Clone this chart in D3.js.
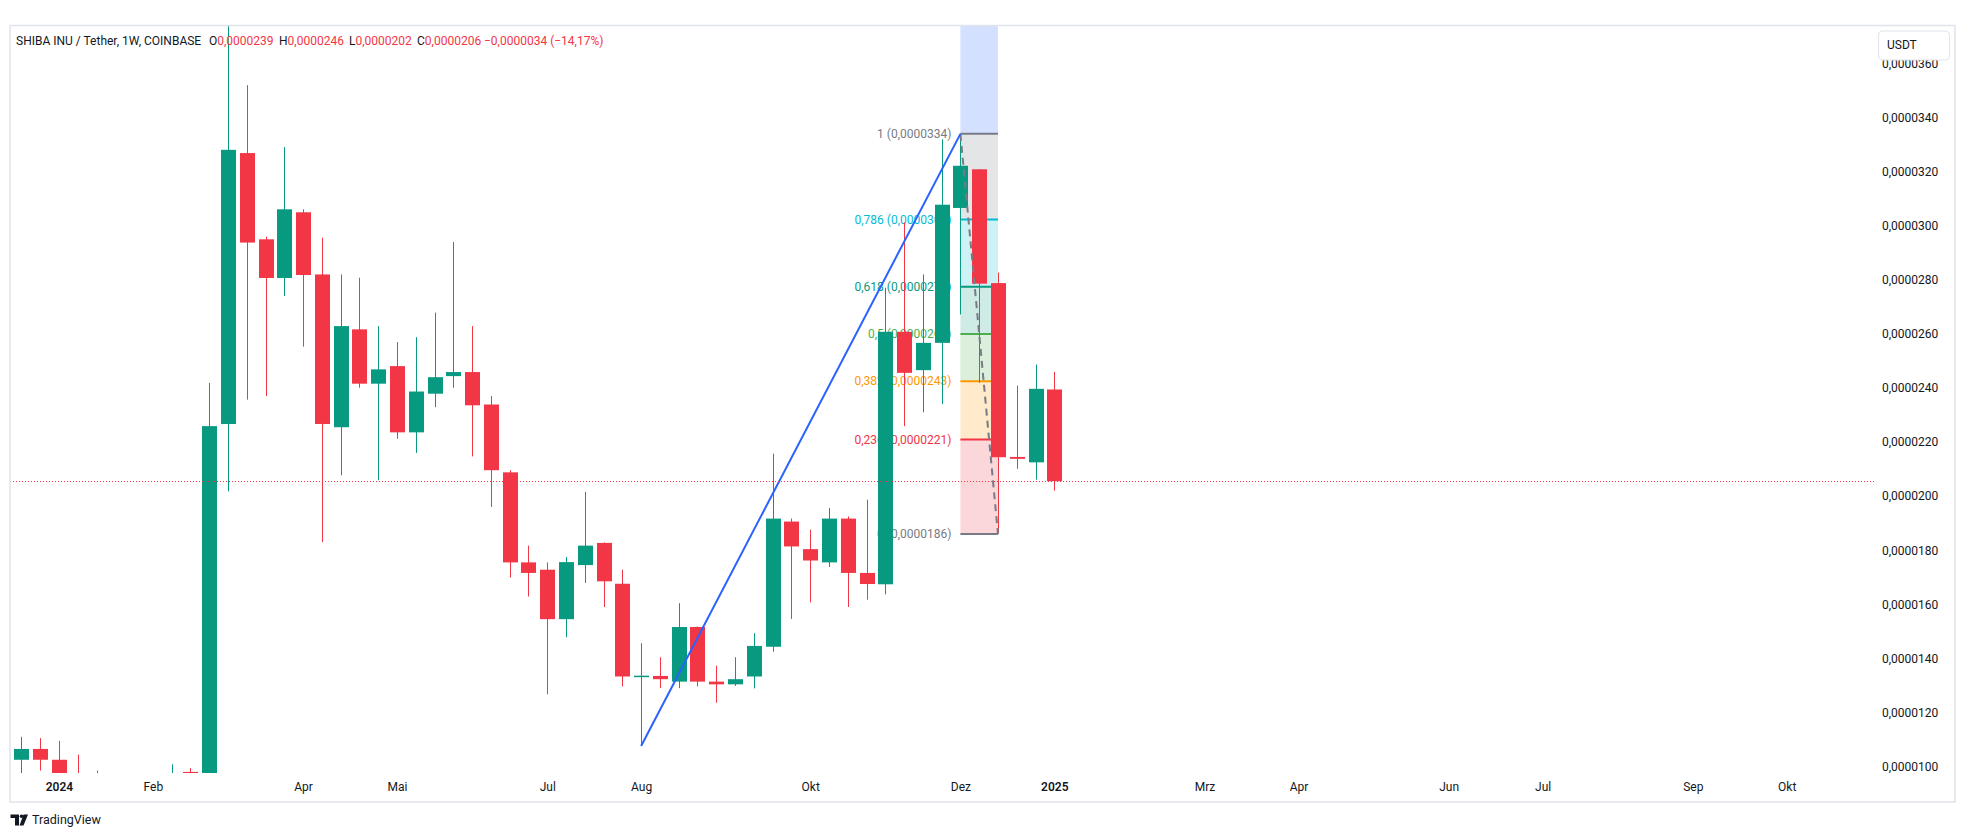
<!DOCTYPE html>
<html><head><meta charset="utf-8">
<script src="https://cdn.jsdelivr.net/npm/d3@7"></script>
<style>
html,body{margin:0;padding:0;background:#fff;}
svg{display:block;font-family:Roboto,"Noto Sans",sans-serif;}
</style></head><body>
<svg id="chart" width="1964" height="837"></svg>
<script>
// ---------- DATA ----------
const weeks = ["2023-12-18","2023-12-25","2024-01-01","2024-01-08","2024-01-15","2024-01-22","2024-01-29","2024-02-05","2024-02-12","2024-02-19","2024-02-26","2024-03-04","2024-03-11","2024-03-18","2024-03-25","2024-04-01","2024-04-08","2024-04-15","2024-04-22","2024-04-29","2024-05-06","2024-05-13","2024-05-20","2024-05-27","2024-06-03","2024-06-10","2024-06-17","2024-06-24","2024-07-01","2024-07-08","2024-07-15","2024-07-22","2024-07-29","2024-08-05","2024-08-12","2024-08-19","2024-08-26","2024-09-02","2024-09-09","2024-09-16","2024-09-23","2024-09-30","2024-10-07","2024-10-14","2024-10-21","2024-10-28","2024-11-04","2024-11-11","2024-11-18","2024-11-25","2024-12-02","2024-12-09","2024-12-16","2024-12-23","2024-12-30","2025-01-06"];
const opens  = [102.5e-7,106.5e-7,102.5e-7,96e-7,93e-7,90e-7,88e-7,92e-7,95e-7,98e-7,96.5e-7,226.7e-7,326.9e-7,295.0e-7,280.7e-7,305.0e-7,282.0e-7,225.5e-7,261.7e-7,241.6e-7,248.1e-7,223.6e-7,237.9e-7,244.4e-7,245.9e-7,233.9e-7,208.8e-7,175.5e-7,172.8e-7,154.5e-7,174.5e-7,182.7e-7,167.6e-7,133.3e-7,133.5e-7,131.4e-7,151.6e-7,131.4e-7,130.4e-7,133.3e-7,144.3e-7,190.6e-7,180.4e-7,175.5e-7,191.7e-7,171.6e-7,167.4e-7,260.8e-7,246.6e-7,256.7e-7,306.6e-7,320.9e-7,278.8e-7,214.5e-7,212.5e-7,239.45e-7];
const highs  = [111e-7,110.5e-7,109.5e-7,104.4e-7,98.5e-7,94e-7,95e-7,96e-7,100.8e-7,99.4e-7,241.9e-7,457e-7,352.0e-7,296.0e-7,329.1e-7,306.1e-7,295.6e-7,282.0e-7,280.8e-7,262.9e-7,257.0e-7,258.8e-7,267.9e-7,294.0e-7,262.9e-7,237.0e-7,209.6e-7,181.7e-7,175.5e-7,177.5e-7,201.6e-7,182.9e-7,172.8e-7,145.6e-7,140.4e-7,160.4e-7,151.8e-7,137.3e-7,140.4e-7,149.3e-7,215.7e-7,191.7e-7,187.6e-7,195.6e-7,192.5e-7,198.7e-7,277.1e-7,301.2e-7,282.0e-7,332.0e-7,334.0e-7,321.0e-7,282.7e-7,240.9e-7,248.7e-7,246e-7];
const lows   = [97e-7,98.5e-7,92e-7,89e-7,88e-7,84e-7,86e-7,89e-7,92e-7,93e-7,94e-7,201.8e-7,235.7e-7,237.0e-7,274.0e-7,255.3e-7,183.0e-7,207.7e-7,240.1e-7,205.9e-7,221.2e-7,216.0e-7,232.9e-7,240.1e-7,214.7e-7,196.0e-7,169.9e-7,162.9e-7,126.7e-7,147.8e-7,167.9e-7,159.0e-7,129.6e-7,107.6e-7,129.0e-7,129.0e-7,129.6e-7,123.6e-7,129.8e-7,128.9e-7,142.5e-7,154.6e-7,160.7e-7,173.8e-7,159.0e-7,161.7e-7,163.7e-7,225.9e-7,231.0e-7,234.1e-7,267.2e-7,241.9e-7,186.0e-7,210.1e-7,206.1e-7,202e-7];
const closes = [106.5e-7,102.5e-7,96e-7,93e-7,90e-7,88e-7,92e-7,95e-7,97e-7,96.5e-7,225.9e-7,328.1e-7,293.8e-7,280.7e-7,306.1e-7,281.8e-7,226.7e-7,262.9e-7,241.6e-7,246.9e-7,223.6e-7,238.7e-7,244.0e-7,245.9e-7,233.6e-7,209.6e-7,175.5e-7,171.6e-7,154.5e-7,175.6e-7,181.7e-7,168.5e-7,133.3e-7,133.6e-7,132.3e-7,151.6e-7,131.4e-7,130.4e-7,132.3e-7,144.6e-7,191.7e-7,181.4e-7,176.2e-7,191.7e-7,171.6e-7,167.5e-7,260.8e-7,245.6e-7,256.7e-7,307.8e-7,322.2e-7,278.6e-7,214.4e-7,213.8e-7,239.7e-7,205.52e-7];

const priceTicks = [100e-7,120e-7,140e-7,160e-7,180e-7,200e-7,220e-7,240e-7,260e-7,280e-7,300e-7,320e-7,340e-7,360e-7];
const timeTickDates  = ["2024-01-01","2024-02-05","2024-04-01","2024-05-06","2024-07-01","2024-08-05","2024-10-07","2024-12-02","2025-01-06","2025-03-03","2025-04-07","2025-06-02","2025-07-07","2025-09-01","2025-10-06"];
const timeTickLabels = ["2024","Feb","Apr","Mai","Jul","Aug","Okt","Dez","2025","Mrz","Apr","Jun","Jul","Sep","Okt"];

// Fibonacci retracement + trend line
const fibLevels = [0, 0.236, 0.382, 0.5, 0.618, 0.786, 1, 1.618];
const fibColors = ["#787B86","#F23645","#FF9800","#4CAF50","#089981","#00BCD4","#787B86","#2962FF"];
const fibDates = ["2024-12-02","2024-12-16"];
const fibHigh = 334e-7, fibLow = 186e-7;
const trendDates = ["2024-08-05","2024-12-02"];
const trendPrices = [107.6e-7, 334e-7];

// ---------- LAYOUT ----------
const W = 1964, H = 837;
const plotL = 10, plotR = 1875, plotT = 26, plotB = 773;
const WEEK = 7*24*3600*1000;
const UP = "#089981", DOWN = "#F23645";
const parse = s => new Date(s + "T00:00:00Z");
const data = weeks.map((w,i)=>({d:parse(w),o:opens[i],h:highs[i],l:lows[i],c:closes[i]}));

const x = d3.scaleUtc()
  .domain([new Date(parse(weeks[0]).getTime() - 0.607*WEEK), new Date(parse(weeks[weeks.length-1]).getTime() + 43.70*WEEK)])
  .range([plotL, plotR]);
const y = d3.scaleLinear().domain([97.6e-7, 373.9e-7]).range([plotB, plotT]);
const bodyW = 15;
const fmtPrice = v => v.toFixed(7).replace(".", ",");

const svg = d3.select("#chart");
svg.append("rect").attr("width",W).attr("height",H).attr("fill","#fff");

svg.append("defs").append("clipPath").attr("id","plotClip")
  .append("rect").attr("x",plotL).attr("y",plotT).attr("width",plotR-plotL).attr("height",plotB-plotT);

const plot = svg.append("g").attr("clip-path","url(#plotClip)");

// Fib fills
const fx0 = x(parse(fibDates[0])), fx1 = x(parse(fibDates[1]));
const fibPrice = l => fibLow + (fibHigh - fibLow)*l;
for (let i=0;i<fibLevels.length-1;i++){
  const yA = Math.max(plotT, y(fibPrice(fibLevels[i]))), yB = Math.max(plotT, y(fibPrice(fibLevels[i+1])));
  plot.append("rect").attr("x",fx0).attr("width",fx1-fx0)
    .attr("y",Math.min(yA,yB)).attr("height",Math.abs(yA-yB))
    .attr("fill",fibColors[i+1]).attr("fill-opacity",0.2);
}
// Fib lines and labels (only levels inside the visible price range)
fibLevels.forEach((l,i)=>{
  const yy = y(fibPrice(l));
  if (yy < plotT || yy > plotB) return;
  plot.append("line").attr("x1",fx0).attr("x2",fx1).attr("y1",yy).attr("y2",yy)
    .attr("stroke",fibColors[i]).attr("stroke-width",2);
  plot.append("text").attr("x",fx0-9).attr("y",yy).attr("dy","0.35em")
    .attr("text-anchor","end").attr("font-size",12).attr("fill",fibColors[i])
    .text(String(l).replace(".",",") + " (" + fmtPrice(fibPrice(l)) + ")");
});

// Candles
const cg = plot.append("g");
cg.selectAll("line.wick").data(data).join("line").attr("class","wick")
  .attr("x1",d=>Math.round(x(d.d))+0.5).attr("x2",d=>Math.round(x(d.d))+0.5)
  .attr("y1",d=>y(d.h)).attr("y2",d=>y(d.l))
  .attr("stroke",d=>d.c>=d.o?UP:DOWN).attr("stroke-width",1);
cg.selectAll("rect.body").data(data).join("rect").attr("class","body")
  .attr("x",d=>Math.round(x(d.d))+0.5-bodyW/2).attr("width",bodyW)
  .attr("y",d=>y(Math.max(d.o,d.c))).attr("height",d=>Math.max(1.5,Math.abs(y(d.o)-y(d.c))))
  .attr("fill",d=>d.c>=d.o?UP:DOWN);

// Fib diagonal dashed
plot.append("line").attr("x1",fx0).attr("y1",y(fibHigh)).attr("x2",fx1).attr("y2",y(fibLow))
  .attr("stroke","#787B86").attr("stroke-width",2).attr("stroke-dasharray","7,5");

// Trend line
plot.append("line")
  .attr("x1",x(parse(trendDates[0]))).attr("y1",y(trendPrices[0]))
  .attr("x2",x(parse(trendDates[1]))).attr("y2",y(trendPrices[1]))
  .attr("stroke","#2962FF").attr("stroke-width",2);

// Current price dotted line
const last = data[data.length-1];
plot.append("line").attr("x1",plotL).attr("x2",plotR).attr("y1",Math.round(y(last.c))+0.5).attr("y2",Math.round(y(last.c))+0.5)
  .attr("stroke",DOWN).attr("stroke-width",1).attr("stroke-dasharray","1,2");

// Price axis
const yAxis = d3.axisRight(y).tickValues(priceTicks).tickFormat(fmtPrice).tickSize(0).tickPadding(7);
const ya = svg.append("g").attr("transform",`translate(${plotR},0)`).call(yAxis);
ya.select(".domain").remove();
ya.selectAll("text").attr("font-size",12).attr("fill","#131722").attr("font-family","Roboto,sans-serif");

// Time axis
const xAxis = d3.axisBottom(x).tickValues(timeTickDates.map(parse))
  .tickFormat((d,i)=>timeTickLabels[i]).tickSize(0).tickPadding(9);
const xa = svg.append("g").attr("transform",`translate(0,${plotB})`).call(xAxis);
xa.select(".domain").remove();
xa.selectAll("text").attr("font-size",12).attr("fill","#131722").attr("font-family","Roboto,sans-serif")
  .attr("font-weight",(d,i)=>/^\d{4}$/.test(timeTickLabels[i])?600:400);

// Borders
svg.append("rect").attr("x",plotL).attr("y",25.5).attr("width",1955-plotL).attr("height",802-25.5)
  .attr("fill","none").attr("stroke","#e0e3eb").attr("stroke-width",1.5);

// USDT box
svg.append("rect").attr("x",1878.5).attr("y",31).attr("width",71).attr("height",29).attr("rx",4)
  .attr("fill","#fff").attr("stroke","#e0e3eb");
svg.append("text").attr("x",1887).attr("y",45).attr("dy","0.35em").attr("font-size",12).attr("fill","#131722").text("USDT");

// Header
const hdr = svg.append("text").attr("y",41).attr("dy","0.35em").attr("font-size",12);
hdr.append("tspan").attr("x",16).attr("fill","#131722").text("SHIBA INU / Tether, 1W, COINBASE");
const ohlc = [["O",last.o,209],["H",last.h,279],["L",last.l,349],["C",last.c,417]];
ohlc.forEach(([k,v,px])=>{
  hdr.append("tspan").attr("x",px).attr("fill","#131722").text(k);
  hdr.append("tspan").attr("fill",DOWN).text(fmtPrice(v));
});
const chg = last.c - last.o;
hdr.append("tspan").attr("x",484).attr("fill",DOWN)
  .text("\u2212" + fmtPrice(Math.abs(chg)) + " (\u2212" + (Math.abs(chg)/last.o*100).toFixed(2).replace(".",",") + "%)");

// TradingView logo
const logo = svg.append("g").attr("fill","#131722");
logo.append("path").attr("d","M10.5 814.5 H19 V825.5 H15 V818 H10.5 Z");
logo.append("circle").attr("cx",21.5).attr("cy",816.3).attr("r",1.8);
logo.append("path").attr("d","M23.5 814.5 H28 L23.5 825.5 H19.5 Z");
svg.append("text").attr("x",32).attr("y",820).attr("dy","0.35em").attr("font-size",12.5).attr("fill","#131722").text("TradingView");
</script>
</body></html>
